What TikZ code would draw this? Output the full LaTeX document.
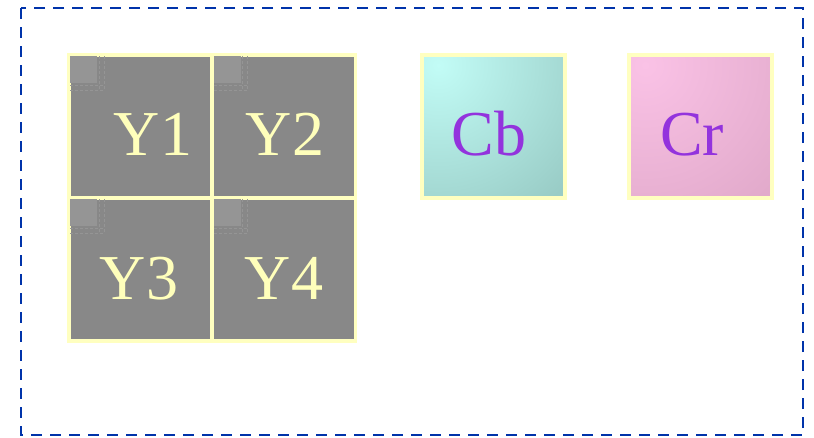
\documentclass[tikz,border=0pt]{standalone}
\usepackage{fontspec}
\setmainfont{Liberation Serif}
\definecolor{ybord}{HTML}{FFFFC0}
\definecolor{cellgray}{HTML}{888888}
\definecolor{lightsq}{HTML}{959595}
\definecolor{ytext}{HTML}{FFFFBB}
\definecolor{ctext}{HTML}{9333DD}
\definecolor{cbA}{HTML}{C2FCF6}
\definecolor{cbB}{HTML}{99CCC6}
\definecolor{crA}{HTML}{FAC2E6}
\definecolor{crB}{HTML}{E2AACB}
\definecolor{frame}{HTML}{0033AA}
\begin{document}
\begin{tikzpicture}[x=1pt,y=-1pt,
  cellbox/.style={draw=ybord,line width=3.5pt,minimum size=143pt,inner sep=0pt,fill=cellgray},
  plainbox/.style={draw=ybord,line width=3.5pt,minimum size=143pt,inner sep=0pt},
  ylab/.style={font=\fontsize{64}{64}\selectfont,text=ytext,anchor=base,inner sep=0pt},
  clab/.style={font=\fontsize{64}{64}\selectfont,text=ctext,anchor=base,inner sep=0pt},
  corner/.style={fill=lightsq},
  faint/.style={draw=lightsq,line width=0.8pt,dash pattern=on 3pt off 2pt}]
\useasboundingbox (0,0) rectangle (814,437);
\draw[frame,line width=2pt,dash pattern=on 11pt off 8pt] (21,8) rectangle (803,435);
% Y cells
\node[cellbox] (y1) at (140.5,126.5) {};
\node[cellbox] (y2) at (284,126.5) {};
\node[cellbox] (y3) at (140.5,269.5) {};
\node[cellbox] (y4) at (284,269.5) {};
\foreach \c in {y1,y2,y3,y4}{
  \draw[faint] ([shift={(32,3)}]\c.north west) -- +(0,34);
  \draw[faint] ([shift={(37,3)}]\c.north west) -- +(0,34);
  \draw[faint] ([shift={(3,32)}]\c.north west) -- +(34,0);
  \draw[faint] ([shift={(3,37)}]\c.north west) -- +(34,0);
  \fill[corner] ([shift={(3,3)}]\c.north west) rectangle +(27,27);
}
\node[ylab] (t1) at (153,155) {Y1};
\node[ylab] (t2) at (285,155) {Y2};
\node[ylab] (t3) at (139,299) {Y3};
\node[ylab] (t4) at (284,299) {Y4};
% Cb
\node[plainbox,fill=cbB] (cb) at (493.5,126.5) {};
\begin{scope}
  \clip (cb.north west) rectangle (cb.south east);
  \shade[inner color=cbA,outer color=cbB] ([shift={(18,12)}]cb.north west) circle (175pt);
\end{scope}
\node[plainbox] at (cb) {};
\node[clab] (tcb) at (489,155) {Cb};
% Cr
\node[plainbox,fill=crB] (cr) at (700.5,126.5) {};
\begin{scope}
  \clip (cr.north west) rectangle (cr.south east);
  \shade[inner color=crA,outer color=crB] ([shift={(18,12)}]cr.north west) circle (175pt);
\end{scope}
\node[plainbox] at (cr) {};
\node[clab] (tcr) at (692,155) {Cr};
\end{tikzpicture}
\end{document}
